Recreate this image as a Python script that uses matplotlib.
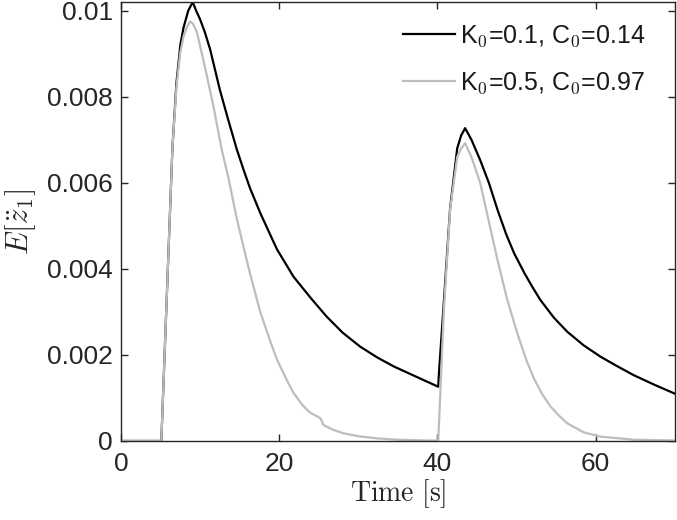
import matplotlib.pyplot as plt

plt.rcParams['font.family'] = ['Liberation Sans', 'DejaVu Sans']
plt.rcParams['mathtext.fontset'] = 'cm'

# K0=0.1, C0=0.14 (black)
t_k1 = [0, 5.1, 5.8, 6.5, 7.0, 7.5, 7.9, 8.5, 9.07, 9.5, 10.0, 10.6, 11.27, 12.5,
        13.5, 14.6, 15.5, 16.3, 17.6, 18.9, 19.7, 21.8, 24.0, 26.0, 28.0, 30.25,
        32.4, 34.5, 37.0, 40.1,
        40.2, 40.8, 41.6, 42.5, 43.0, 43.5, 44.3, 45.4, 46.5, 47.6, 48.7, 49.7,
        51.0, 52.0, 53.0, 54.7, 56.4, 58.5, 60.6, 62.7, 64.8, 67.5, 70.0]
e_k1 = [0, 0, 0.0034, 0.0068, 0.0083, 0.0092, 0.0096, 0.0100, 0.0102, 0.0100,
        0.0098, 0.0095, 0.0091, 0.00816, 0.0075, 0.0068, 0.0063, 0.00588, 0.0053,
        0.00478, 0.00446, 0.00382, 0.00332, 0.00289, 0.00252, 0.00219,
        0.00194, 0.00173, 0.00152, 0.00126,
        0.0016, 0.0032, 0.0054, 0.0068, 0.0071, 0.00727, 0.0070, 0.00653,
        0.0060, 0.00537, 0.0048, 0.00436, 0.0039, 0.00358, 0.00328, 0.00287,
        0.00254, 0.00222, 0.00196, 0.00174, 0.00153, 0.0013, 0.00110]

# K0=0.5, C0=0.97 (grey)
t_k2 = [0, 5.1, 5.8, 6.5, 7.0, 7.47, 7.9, 8.3, 8.73, 9.1, 9.6, 10.6, 11.7, 12.7,
        13.6, 14.6, 15.5, 16.3, 17.6, 18.9, 19.7, 21.0, 21.8, 23.0, 23.9,
        25.2, 25.6, 26.8, 28.1, 30.0, 32.4, 35.0, 38.7, 40.1,
        40.2, 40.8, 41.6, 42.5, 43.0, 43.5, 44.3, 45.4, 46.5, 47.6, 48.8,
        50.1, 51.2, 52.2, 53.2, 54.3, 55.3, 56.4, 58.5, 60.6, 64.8, 70.0]
e_k2 = [0, 0, 0.0034, 0.0068, 0.0082, 0.0090, 0.0094, 0.0096, 0.00975, 0.0097,
        0.0095, 0.0087, 0.00777, 0.0068, 0.0061, 0.0052, 0.0045, 0.0039,
        0.0030, 0.0023, 0.0019, 0.0014, 0.00112, 0.00082, 0.00066,
        0.00053, 0.00037, 0.00026, 0.00018, 0.00011, 0.00006, 0.00003,
        0.00001, 0.00001,
        0.0004, 0.0030, 0.00537, 0.0066, 0.0068, 0.00692, 0.0066, 0.0060,
        0.0051, 0.0042, 0.0033, 0.0025, 0.0019, 0.00145, 0.0011, 0.0008,
        0.0006, 0.00041, 0.0002, 0.0001, 0.00003, 0.00001]

labels = [r'K$_\mathsf{0}$=0.1, C$_\mathsf{0}$=0.14',
          r'K$_\mathsf{0}$=0.5, C$_\mathsf{0}$=0.97']
xticks = [0, 20, 40, 60]
yticks = [0, 0.002, 0.004, 0.006, 0.008, 0.01]
ytick_labels = ['0', '0.002', '0.004', '0.006', '0.008', '0.01']

fig = plt.figure(figsize=(6.77, 5.2), dpi=100)
ax = fig.add_axes([0.1787, 0.152, 0.818, 0.844])

ax.plot(t_k1, e_k1, color='black', lw=1.6, label=labels[0])
ax.plot(t_k2, e_k2, color='#bdbdbd', lw=1.6, label=labels[1])

ax.set_xlim(0, 70)
ax.set_ylim(0, 0.0102)
ax.set_xticks(xticks)
ax.set_yticks(yticks)
ax.set_yticklabels(ytick_labels)
ax.tick_params(direction='in', length=5, width=1, labelsize=19,
               colors='#262626', top=True, right=True, pad=6)
ax.tick_params(axis='x', pad=8)
for s in ax.spines.values():
    s.set_color('#262626')
    s.set_linewidth(1)

ax.set_xlabel(r'$\mathrm{Time\ [s]}$', fontsize=20, color='#262626', labelpad=1)
ax.set_ylabel(r'$E[\ddot{z}_1]$', fontsize=22, color='#262626', labelpad=6)

leg = ax.legend(loc='upper right', bbox_to_anchor=(0.975, 0.985), frameon=False,
                fontsize=18, handlelength=2.1, handletextpad=0.2,
                labelspacing=0.85, borderaxespad=0.2)
for txt in leg.get_texts():
    txt.set_color('#1a1a1a')

fig.savefig('out.png', dpi=100)
